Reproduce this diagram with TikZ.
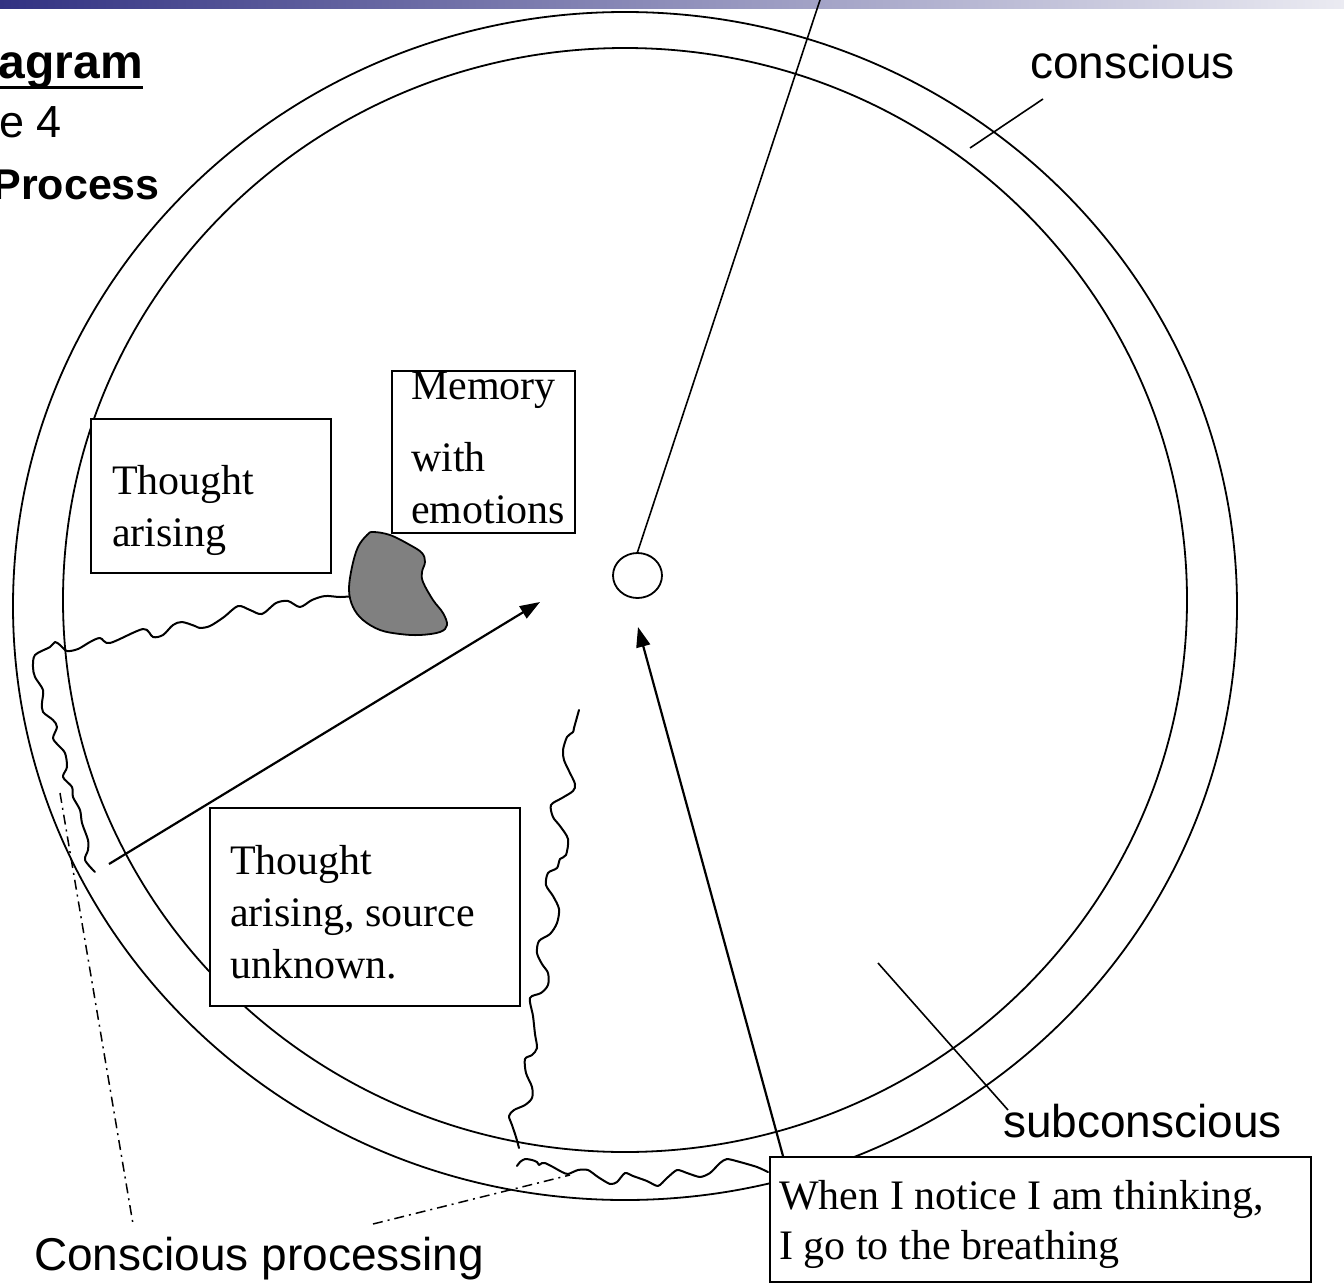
\documentclass[tikz,border=0pt]{standalone}
\usepackage{fontspec}
\setmainfont{Liberation Serif}
\newfontfamily\arialf{Liberation Sans}
\usetikzlibrary{arrows.meta,shapes.geometric}
\definecolor{barL}{RGB}{50,50,130}
\definecolor{barR}{RGB}{235,235,242}
\definecolor{blobgray}{RGB}{128,128,128}
\begin{document}
\begin{tikzpicture}[x=1pt,y=-1pt,
  ring/.style={line width=1.8pt},
  box/.style={draw, line width=1.6pt, fill=white, inner sep=0pt},
  stxt/.style={font=\fontsize{42}{52}\selectfont, inner sep=0pt, anchor=base west},
  atxt/.style={font=\arialf\fontsize{46}{55}\selectfont, inner sep=0pt, anchor=base west},
  wav/.style={line width=2pt, line join=round, line cap=round},
  ddot/.style={line width=1.5pt, dash pattern=on 10pt off 5pt on 2pt off 5pt},
  pointer/.style={line width=1.6pt},
  arr/.style={line width=2.2pt, -{Triangle[length=20pt,width=14pt]}}]

\useasboundingbox (0,0) rectangle (1344,1283);
\fill[white] (0,0) rectangle (1344,1283);
\shade[left color=barL, right color=barR] (0,0) rectangle (1344,8);

% rings
\draw[ring] (625,606) ellipse [x radius=612pt, y radius=594pt];
\draw[ring] (625,600) ellipse [x radius=562pt, y radius=552pt];

% title fragments
\node[font=\arialf\bfseries\fontsize{48}{55}\selectfont, inner sep=0pt, anchor=base east] (tag) at (143,78) {agram};
\draw[line width=3pt] ([yshift=-9pt]tag.base west) -- ([yshift=-9pt]tag.base east);
\node[font=\arialf\fontsize{45}{52}\selectfont, inner sep=0pt, anchor=base east] (tfig) at (62,137) {e 4};
\node[font=\arialf\bfseries\fontsize{43}{50}\selectfont, inner sep=0pt, anchor=base east] (tproc) at (160,199) {Process};

% centre circle and line to top
\node[draw, ellipse, line width=1.8pt, minimum width=49pt, minimum height=45pt, inner sep=0pt] (cen) at (637.5,575.5) {};
\coordinate (topend) at (820,0);
\draw[pointer] (cen.north) -- (topend);

% wavy line A (from blob, along left ring)
\draw[wav] plot[smooth, tension=0.5] coordinates {
 (355,596) (340,597) (325,596) (312,600) (300,607) (288,601) (276,603) (262,614) (250,610) (238,606)
 (224,617) (210,626) (200,628) (195,626) (182,622) (173,625) (163,635) (153,637) (143,629)
 (110,643) (100,638) (90,642) (78,649) (67,651) (60,645) (55,642) (50,647) (35,655) (33,667)
 (35,677) (43,690) (42,703) (43,712) (53,720) (57,727) (53,738) (58,745) (65,753) (67,767)
 (63,777) (72,787) (73,797) (80,810) (82,823) (88,840) (88,850) (85,860) (95,872)};

% blob
\draw[line width=1.8pt, fill=blobgray] plot[smooth cycle, tension=0.6] coordinates {
 (373,532) (390,535) (410,545) (422,553) (425,562) (422,572) (423,582) (433,600) (443,613)
 (447,625) (440,632) (420,635) (400,634) (380,630) (363,620) (353,607) (349,590) (352,567)
 (358,547) (367,535)};

% wavy line B (vertical)
\draw[wav] plot[smooth, tension=0.5] coordinates {
 (579,710) (574,728) (573,732) (567,737) (563,750) (564,760) (569,771) (575,784) (573,791)
 (562,798) (551,805) (553,817) (560,826) (568,839) (566,855) (560,859) (557,868) (548,873)
 (546,885) (553,896) (559,909) (557,923) (550,934) (539,941) (537,953) (542,964) (548,973)
 (548,985) (541,993) (530,998) (533,1016) (535,1034) (537,1048) (532,1055) (525,1059)
 (526,1073) (532,1087) (532,1098) (525,1105) (514,1110) (509,1116) (512,1125) (516,1137) (519,1148)};

% wavy line C (along bottom ring)
\draw[wav] plot[smooth, tension=0.4] coordinates {
 (517,1166) (520,1162) (525,1159) (532,1160) (537,1162) (539,1165) (542,1163) (545,1163)
 (553,1167) (562,1172) (568,1174) (578,1170) (588,1170) (598,1177) (610,1184) (617,1182)
 (625,1173) (633,1176) (647,1181) (658,1186) (667,1178) (677,1170) (687,1173) (700,1177)
 (710,1173) (720,1163) (727,1159) (740,1162) (757,1167) (768,1172)};

% boxes
\node[box, minimum width=240pt, minimum height=154pt, anchor=north west] (b1) at (90,418) {};
\node[stxt] (b1l1) at (112,494) {Thought};
\node[stxt] (b1l2) at (112,546) {arising};

\node[box, minimum width=183pt, minimum height=162pt, anchor=north west] (b2) at (391,370) {};
\node[stxt] (b2l1) at (411,399) {Memory};
\node[stxt] (b2l2) at (411,471) {with};
\node[stxt] (b2l3) at (411,523) {emotions};

\node[box, minimum width=310pt, minimum height=198pt, anchor=north west] (b3) at (209,807) {};
\node[stxt] (b3l1) at (230,874) {Thought};
\node[stxt] (b3l2) at (230,926) {arising, source};
\node[stxt] (b3l3) at (230,978) {unknown.};

\node[box, minimum width=541pt, minimum height=125pt, anchor=north west] (b4) at (769,1156) {};
\node[stxt] (b4l1) at (779,1209) {When I notice I am thinking,};
\node[stxt] (b4l2) at (779,1259) {I go to the breathing};

% arrows
\coordinate (a1s) at (109,864);
\coordinate (a1e) at (540,602);
\draw[arr] (a1s) -- (a1e);
\coordinate (a2s) at (783,1156);
\coordinate (a2e) at (638,627);
\draw[arr] (a2s) -- (a2e);

% labels
\node[atxt] (lcon) at (1030,78) {conscious};
\coordinate (pc1) at (970,148);
\coordinate (pc2) at (1043,99);
\draw[pointer] (pc1) -- (pc2);

\node[atxt] (lsub) at (1003,1137) {subconscious};
\coordinate (ps1) at (878,963);
\coordinate (ps2) at (1008,1110);
\draw[pointer] (ps1) -- (ps2);

\node[atxt] (lproc) at (34,1270) {Conscious processing};
\coordinate (pd1) at (60,793);
\coordinate (pd2) at (133,1224);
\draw[ddot] (pd1) -- (pd2);
\coordinate (pd3) at (373,1224);
\coordinate (pd4) at (570,1175);
\draw[ddot] (pd3) -- (pd4);
\end{tikzpicture}
\end{document}
